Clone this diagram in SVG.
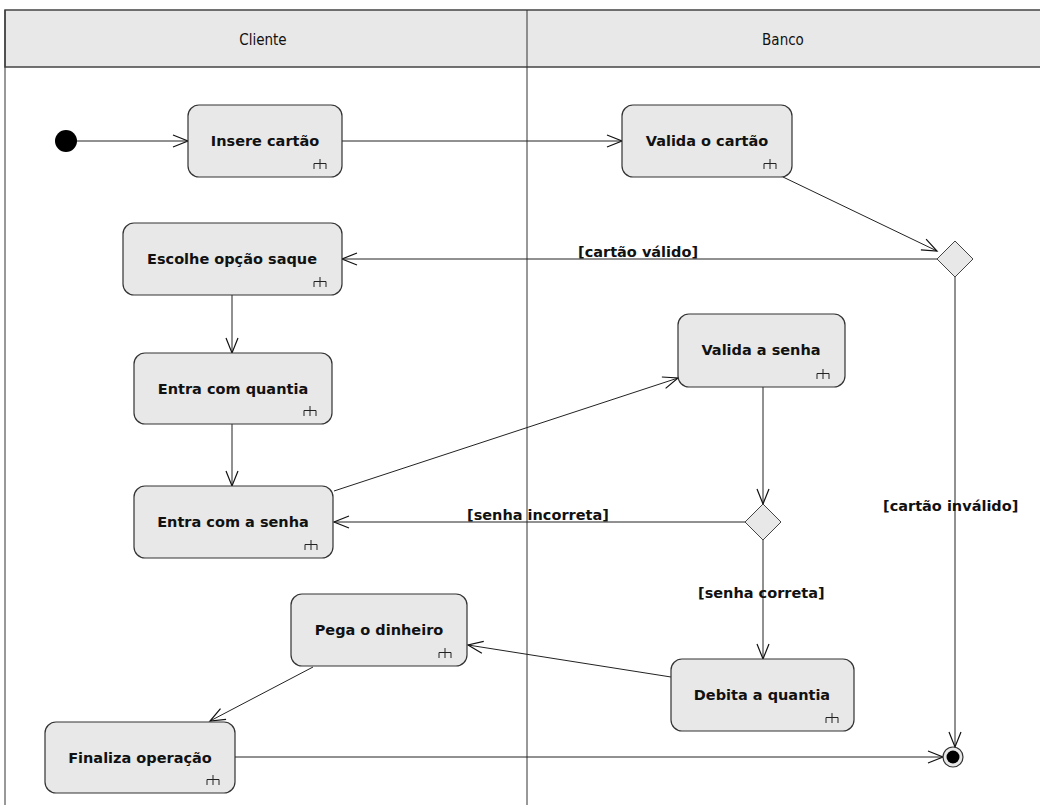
<svg xmlns="http://www.w3.org/2000/svg" width="1040" height="805" viewBox="0 0 1040 805">
  <style>
    .lane-head { fill: #e8e8e8; stroke: #444; stroke-width: 1.5; }
    .lane-line { stroke: #333; stroke-width: 1; }
    .lane-title { font-family: "DejaVu Sans Condensed", "DejaVu Sans", sans-serif; font-stretch: condensed; font-size: 15px; fill: #111; text-anchor: middle; }
    .act { fill: #e8e8e8; stroke: #333; stroke-width: 1.2; }
    .act-label { font-family: "DejaVu Sans", sans-serif; font-weight: bold; font-size: 14.5px; fill: #111; text-anchor: middle; }
    .rake { fill: none; stroke: #222; stroke-width: 1; }
    .dec { fill: #e8e8e8; stroke: #444; stroke-width: 1; }
    .flow { fill: none; stroke: #222; stroke-width: 1; marker-end: url(#open); }
    .guard { font-family: "DejaVu Sans", sans-serif; font-weight: bold; font-size: 14.5px; fill: #111; }
  </style>
  <defs>
    <marker id="open" markerUnits="userSpaceOnUse" markerWidth="18" markerHeight="16" refX="16" refY="8" orient="auto">
      <path d="M1,2 L16,8 L1,14" fill="none" stroke="#111" stroke-width="1.2"/>
    </marker>
    <!-- rake icon marking a call-behaviour action -->
    <path id="rake" class="rake" d="M7,0 V10 M1,10 V4.5 H13 V10"/>
  </defs>

  <rect width="1040" height="805" fill="#ffffff"/>

  <!-- swimlanes -->
  <g id="lanes">
    <rect class="lane-head" x="5" y="10" width="1040" height="57"/>
    <line class="lane-line" x1="5" y1="10" x2="5" y2="805"/>
    <line class="lane-line" x1="527" y1="10" x2="527" y2="805"/>
    <text class="lane-title" x="263" y="45">Cliente</text>
    <text class="lane-title" x="783" y="45">Banco</text>
  </g>

  <!-- control flows -->
  <g id="connectors">
    <line class="flow" x1="77" y1="141" x2="188" y2="141"/>
    <line class="flow" x1="342" y1="141" x2="622" y2="141"/>
    <line class="flow" x1="783" y1="177" x2="937" y2="251"/>
    <line class="flow" x1="937" y1="259" x2="342" y2="259"/>
    <line class="flow" x1="955" y1="277" x2="955" y2="747"/>
    <line class="flow" x1="232" y1="295" x2="232" y2="353"/>
    <line class="flow" x1="232" y1="424" x2="232" y2="486"/>
    <line class="flow" x1="334" y1="491" x2="678" y2="378"/>
    <line class="flow" x1="763" y1="387" x2="763" y2="504"/>
    <line class="flow" x1="745" y1="522" x2="334" y2="522"/>
    <line class="flow" x1="763" y1="540" x2="763" y2="659"/>
    <line class="flow" x1="671" y1="677" x2="468" y2="645"/>
    <line class="flow" x1="313" y1="667" x2="210" y2="721"/>
    <line class="flow" x1="235" y1="757" x2="943" y2="757"/>
    <text class="guard" x="578" y="257">[cartão válido]</text>
    <text class="guard" x="883" y="511">[cartão inválido]</text>
    <text class="guard" x="467" y="520">[senha incorreta]</text>
    <text class="guard" x="698" y="598">[senha correta]</text>
  </g>

  <!-- start and end -->
  <g id="start">
    <circle cx="66" cy="141" r="11" fill="#000"/>
  </g>
  <g id="end">
    <circle cx="953" cy="757" r="10" fill="#e8e8e8" stroke="#333" stroke-width="1.2"/>
    <circle cx="953" cy="757" r="6.5" fill="#000"/>
  </g>

  <!-- decisions -->
  <g id="decisao-cartao">
    <polygon class="dec" points="955,241 973,259 955,277 937,259"/>
  </g>
  <g id="decisao-senha">
    <polygon class="dec" points="763,504 781,522 763,540 745,522"/>
  </g>

  <!-- actions -->
  <g id="insere-cartao">
    <rect class="act" x="188" y="105" width="154" height="72" rx="11"/>
    <text class="act-label" x="265" y="146">Insere cartão</text>
    <use href="#rake" x="313" y="159"/>
  </g>
  <g id="valida-cartao">
    <rect class="act" x="622" y="105" width="170" height="72" rx="11"/>
    <text class="act-label" x="707" y="146">Valida o cartão</text>
    <use href="#rake" x="763" y="159"/>
  </g>
  <g id="escolhe-saque">
    <rect class="act" x="123" y="223" width="219" height="72" rx="11"/>
    <text class="act-label" x="232" y="264">Escolhe opção saque</text>
    <use href="#rake" x="313" y="277"/>
  </g>
  <g id="entra-quantia">
    <rect class="act" x="134" y="353" width="198" height="71" rx="11"/>
    <text class="act-label" x="233" y="394">Entra com quantia</text>
    <use href="#rake" x="303" y="406"/>
  </g>
  <g id="valida-senha">
    <rect class="act" x="678" y="314" width="167" height="73" rx="11"/>
    <text class="act-label" x="761" y="355">Valida a senha</text>
    <use href="#rake" x="816" y="369"/>
  </g>
  <g id="entra-senha">
    <rect class="act" x="134" y="486" width="199" height="72" rx="11"/>
    <text class="act-label" x="233" y="527">Entra com a senha</text>
    <use href="#rake" x="304" y="540"/>
  </g>
  <g id="pega-dinheiro">
    <rect class="act" x="291" y="594" width="176" height="72" rx="11"/>
    <text class="act-label" x="379" y="635">Pega o dinheiro</text>
    <use href="#rake" x="438" y="648"/>
  </g>
  <g id="debita-quantia">
    <rect class="act" x="671" y="659" width="183" height="72" rx="11"/>
    <text class="act-label" x="762" y="700">Debita a quantia</text>
    <use href="#rake" x="825" y="713"/>
  </g>
  <g id="finaliza-operacao">
    <rect class="act" x="45" y="722" width="190" height="71" rx="11"/>
    <text class="act-label" x="140" y="763">Finaliza operação</text>
    <use href="#rake" x="206" y="775"/>
  </g>
</svg>
